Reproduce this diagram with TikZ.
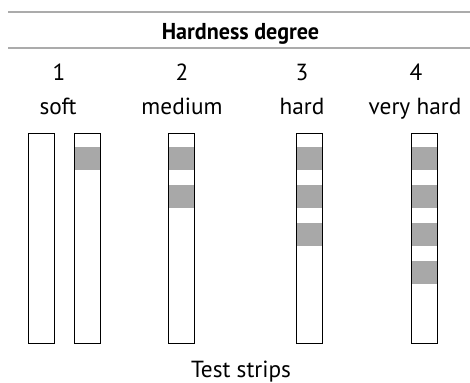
\documentclass[tikz,border=0pt]{standalone}
\usepackage{fontspec}
\setmainfont{PT Sans}
\begin{document}
\begin{tikzpicture}[x=1pt,y=-1pt,
  rule/.style={draw=black!33,line width=2pt},
  lbl/.style={anchor=base,inner sep=0pt,font=\fontsize{23.3}{27}\selectfont},
  ttl/.style={anchor=base,inner sep=0pt,font=\fontsize{23}{27}\selectfont\bfseries},
  strip/.style={draw=black,line width=1.2pt,minimum width=26pt,minimum height=210pt,inner sep=0pt,anchor=north west},
  band/.style={fill=black!34}]
\useasboundingbox (0,0) rectangle (470,382);
\coordinate (r1a) at (8,11.7); \coordinate (r1b) at (470,11.7);
\coordinate (r2a) at (8,48.3); \coordinate (r2b) at (470,48.3);
\draw[rule] (r1a) -- (r1b);
\draw[rule] (r2a) -- (r2b);
\node[ttl,xscale=0.96] (title) at (240.5,39.3) {Hardness degree};
\node[lbl] (n1) at (59,81) {1};
\node[lbl] (n2) at (182,81) {2};
\node[lbl] (n3) at (302,81) {3};
\node[lbl] (n4) at (416,81) {4};
\node[lbl] (l1) at (58,114.3) {soft};
\node[lbl] (l2) at (182,114.3) {medium};
\node[lbl] (l3) at (302,114.3) {hard};
\node[lbl] (l4) at (415,114.3) {very hard};
% bands
\foreach \x/\n in {74/1,167.5/2,296/3,411/4}{
  \foreach \k in {1,...,\n}{
    \fill[band] (\x,{147.3+38*(\k-1)}) rectangle ++(26,22.6);
  }
}
\node[strip] (s1a) at (28,132.7) {};
\node[strip] (s1b) at (74,132.7) {};
\node[strip] (s2) at (167.5,132.7) {};
\node[strip] (s3) at (296,132.7) {};
\node[strip] (s4) at (411,132.7) {};
\node[lbl] (cap) at (241,377.7) {Test strips};
\end{tikzpicture}
\end{document}
